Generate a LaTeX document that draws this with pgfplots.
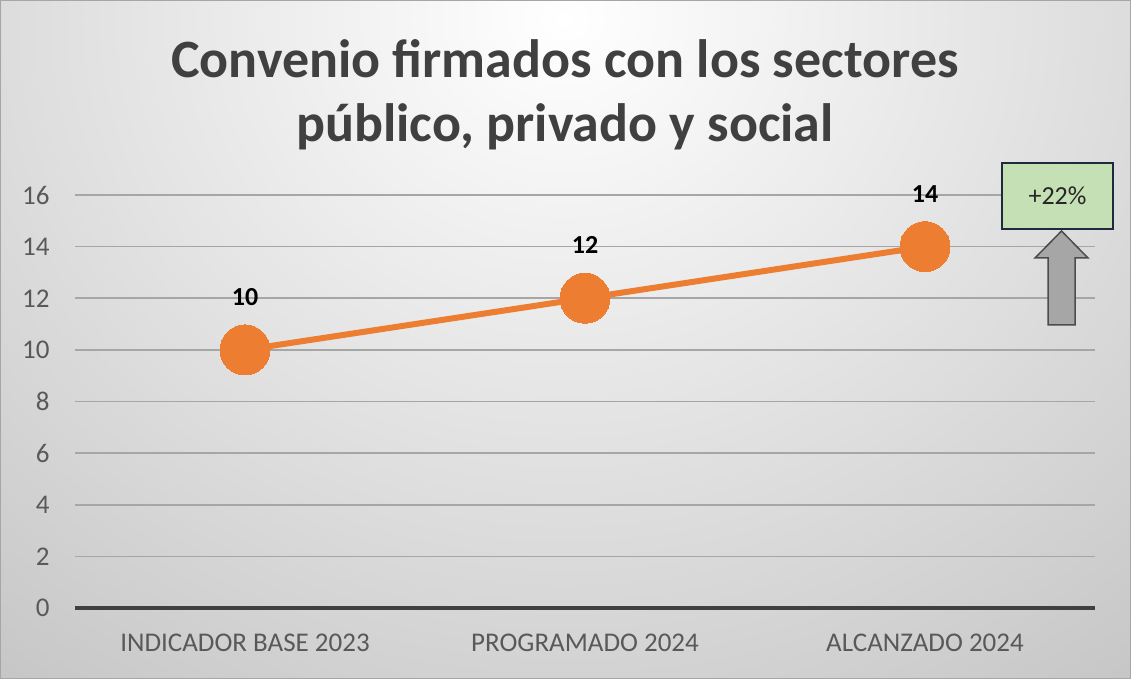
\documentclass[border=0pt]{standalone}
\usepackage{pgfplots}
\pgfplotsset{compat=1.18}
\usepackage{fontspec}
\setmainfont{Carlito}
\definecolor{orangeline}{HTML}{ED7D31}
\definecolor{titlegray}{HTML}{404040}
\definecolor{ticktext}{HTML}{595959}
\definecolor{gridgray}{HTML}{A6A6A6}
\definecolor{boxgreen}{HTML}{C5E0B4}
\definecolor{boxborder}{HTML}{1F2A3C}
\begin{document}
\begin{tikzpicture}[x=1pt,y=1pt]
\begin{scope}
\clip (0,0) rectangle (1131,679);
\shade[inner color=white, outer color=black!24] (565,660) ellipse (1000 and 900);
\end{scope}
\draw[black!35, line width=1pt] (0.5,0.5) rectangle (1130.5,678.5);
\node[font=\fontsize{54}{64}\selectfont\bfseries, text=titlegray, align=center] at (565,584) {Convenio firmados con los sectores\\público, privado y social};
\begin{axis}[
  at={(75pt,71pt)}, anchor=south west,
  scale only axis, width=1020pt, height=413pt,
  xmin=-0.5, xmax=2.5, ymin=0, ymax=16,
  xtick={0,1,2},
  xticklabels={INDICADOR BASE 2023, PROGRAMADO 2024, ALCANZADO 2024},
  ytick={0,2,...,16},
  axis line style={draw=none},
  major tick length=0pt,
  ymajorgrids,
  grid style={gridgray, line width=1.6pt},
  tick label style={font=\fontsize{27}{32}\selectfont, text=ticktext},
  /pgf/number format/assume math mode=true,
  yticklabel style={xshift=-22pt},
  xticklabel style={yshift=-22pt},
  clip=false,
  nodes near coords,
  every node near coord/.append style={font=\fontsize{26}{30}\selectfont\bfseries, text=black, yshift=41pt},
]
\addplot[orangeline, line width=6pt, mark=*, mark size=25pt, mark options={fill=orangeline, draw=orangeline, line width=0pt}] coordinates {(0,10) (1,12) (2,14)};
\draw[black!75, line width=4pt] (axis cs:-0.5,0) -- (axis cs:2.5,0);
\end{axis}
% annotation box and arrow
\draw[boxborder, line width=2pt, fill=boxgreen] (1002,450) rectangle (1113,516);
\node[font=\fontsize{26}{30}\selectfont, text=black!85] at (1057.5,483) {+22\%};
\draw[black!70, line width=1.5pt, fill=black!35] (1061.5,448) -- (1088,421) -- (1075,421) -- (1075,354) -- (1048,354) -- (1048,421) -- (1035,421) -- cycle;
\end{tikzpicture}
\end{document}
